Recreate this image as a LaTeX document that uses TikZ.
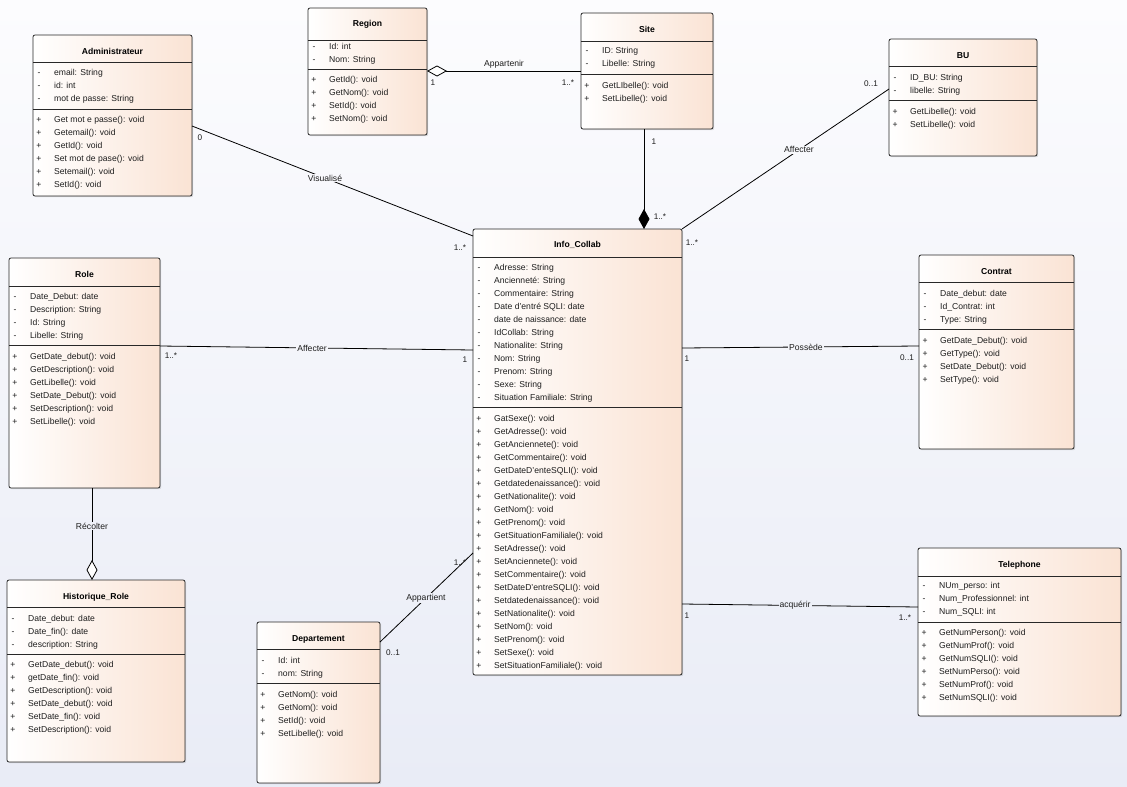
\documentclass[tikz,border=0pt]{standalone}
\usepackage{fontspec}
\setmainfont{Liberation Sans}
\usetikzlibrary{arrows.meta,calc,shadows}
\definecolor{bgA}{RGB}{252,252,254}
\definecolor{bgB}{RGB}{233,236,246}
\definecolor{peach}{RGB}{250,227,212}
\definecolor{boxline}{RGB}{40,40,40}
\definecolor{txt}{RGB}{30,30,30}
\tikzset{
 classbox/.style={draw=boxline, line width=0.8pt, rounded corners=2pt, left color=white, right color=peach, inner sep=0pt, outer sep=0pt, anchor=north west, drop shadow={shadow xshift=1.2pt, shadow yshift=-1.2pt, opacity=0.25}},
 sepline/.style={draw=boxline, line width=0.8pt},
 rowtxt/.style={font=\fontsize{8.6}{10}\selectfont, text=txt, inner sep=0pt},
 titletxt/.style={font=\fontsize{8.6}{10}\selectfont\bfseries, text=black, inner sep=0pt, anchor=base},
 conn/.style={draw=black, line width=0.8pt},
 lab/.style={font=\fontsize{8.6}{10}\selectfont, inner sep=1pt, text=txt},
 mult/.style={font=\fontsize{8.2}{10}\selectfont, inner sep=0pt, text=txt},
}
\newcommand{\umlclass}[9]{%
  \node[classbox, minimum width={#4-#2}, minimum height={#5-#3}] (#1) at (#2,#3) {};
  \draw[sepline] (#2,#6) -- (#4,#6);
  \draw[sepline] (#2,#7) -- (#4,#7);
  \node[titletxt] (#1-title) at ({(#2+#4)/2},#9+3) {#8};
}
\newcommand{\umlrows}[5]{%
  \foreach \t [count=\i] in {#5} {
    \node[rowtxt, anchor=base] (#1s\i) at (#2+6, #3+13*\i-10) {#4};
    \node[rowtxt, anchor=base west] (#1t\i) at (#2+21, #3+13*\i-10) {\t};
  }}
\begin{document}
\begin{tikzpicture}[x=1pt,y=-1pt]
\useasboundingbox (0,0) rectangle (1127,787);
\shade[top color=bgA, bottom color=bgB] (0,0) rectangle (1127,787);

% Administrateur
\umlclass{admin}{33}{35}{192}{196}{62}{109}{Administrateur}{51}
\umlrows{admina}{33}{72}{-}{email: String, id: int, mot de passe: String}
\umlrows{admino}{33}{119}{+}{Get mot e passe(): void, Getemail(): void, GetId(): void, Set mot de pase(): void, Setemail(): void, SetId(): void}

% Region
\umlclass{region}{308}{8}{427}{135}{40}{69}{Region}{24}
\umlrows{regiona}{308}{46}{-}{Id: int, Nom: String}
\umlrows{regiono}{308}{79}{+}{GetId(): void, GetNom(): void, SetId(): void, SetNom(): void}

% Site
\umlclass{site}{581}{13}{713}{129}{41}{74}{Site}{29}
\umlrows{sitea}{581}{50}{-}{ID: String, Libelle: String}
\umlrows{siteo}{581}{85}{+}{GetLIbelle(): void, SetLibelle(): void}

% BU
\umlclass{bu}{889}{39}{1037}{156}{66}{100}{BU}{55}
\umlrows{bua}{889}{77}{-}{ID\_BU: String, libelle: String}
\umlrows{buo}{889}{111}{+}{GetLibelle(): void, SetLibelle(): void}

% Role
\umlclass{role}{9}{258}{160}{488}{286}{345}{Role}{274}
\umlrows{rolea}{9}{296}{-}{Date\_Debut: date, Description: String, Id: String, Libelle: String}
\umlrows{roleo}{9}{356}{+}{GetDate\_debut(): void, GetDescription(): void, GetLibelle(): void, SetDate\_Debut(): void, SetDescription(): void, SetLibelle(): void}

% Info_Collab
\umlclass{info}{473}{229}{682}{675}{257}{407}{Info\_Collab}{244}
\umlrows{infoa}{473}{267}{-}{Adresse: String, Ancienneté: String, Commentaire: String, Date d'entré SQLI: date, date de naissance: date, IdCollab: String, Nationalite: String, Nom: String, Prenom: String, Sexe: String, Situation Familiale: String}
\umlrows{infoo}{473}{418}{+}{GatSexe(): void, GetAdresse(): void, GetAnciennete(): void, GetCommentaire(): void, GetDateD'enteSQLI(): void, Getdatedenaissance(): void, GetNationalite(): void, GetNom(): void, GetPrenom(): void, GetSituationFamiliale(): void, SetAdresse(): void, SetAnciennete(): void, SetCommentaire(): void, SetDateD'entreSQLI(): void, Setdatedenaissance(): void, SetNationalite(): void, SetNom(): void, SetPrenom(): void, SetSexe(): void, SetSituationFamiliale(): void}

% Contrat
\umlclass{contrat}{919}{255}{1074}{449}{282}{329}{Contrat}{271}
\umlrows{contrata}{919}{293}{-}{Date\_debut: date, Id\_Contrat: int, Type: String}
\umlrows{contrato}{919}{340}{+}{GetDate\_Debut(): void, GetType(): void, SetDate\_Debut(): void, SetType(): void}

% Historique_Role
\umlclass{histo}{7}{580}{185}{762}{607}{654}{Historique\_Role}{596}
\umlrows{histoa}{7}{618}{-}{Date\_debut: date, Date\_fin(): date, description: String}
\umlrows{histoo}{7}{664}{+}{GetDate\_debut(): void, getDate\_fin(): void, GetDescription(): void, SetDate\_debut(): void, SetDate\_fin(): void, SetDescription(): void}

% Departement
\umlclass{dept}{257}{622}{380}{783}{649}{683}{Departement}{638}
\umlrows{depta}{257}{660}{-}{Id: int, nom: String}
\umlrows{depto}{257}{694}{+}{GetNom(): void, GetNom(): void, SetId(): void, SetLibelle(): void}

% Telephone
\umlclass{tel}{918}{548}{1121}{716}{576}{622}{Telephone}{564}
\umlrows{tela}{918}{585}{-}{NUm\_perso: int, Num\_Professionnel: int, Num\_SQLI: int}
\umlrows{telo}{918}{632}{+}{GetNumPerson(): void, GetNumProf(): void, GetNumSQLI(): void, SetNumPerso(): void, SetNumProf(): void, SetNumSQLI(): void}

% Connectors
\draw[conn, {Diamond[fill=white, length=20pt, width=11pt]}-] ($(region.north east)+(0,63)$) -- node[lab, midway, above=1pt] (l-app) {Appartenir} ($(site.north west)+(0,58)$);
\draw[conn, -{Diamond[length=20pt, width=11pt]}] ($(site.south west)+(63,0)$) -- ($(info.north west)+(171,0)$);
\draw[conn] ($(bu.north west)+(0,50)$) -- node[lab, pos=0.435, fill=bgB!19!bgA] (l-aff1) {Affecter} (info.north east);
\draw[conn] ($(admin.north east)+(0,91)$) -- node[lab, pos=0.473, fill=bgB!22!bgA] (l-vis) {Visualisé} ($(info.north west)+(0,7)$);
\draw[conn] ($(role.north east)+(0,88)$) -- node[lab, pos=0.486, fill=bgB!44!bgA] (l-aff2) {Affecter} ($(info.north west)+(0,121)$);
\draw[conn] ($(info.north east)+(0,119)$) -- node[lab, pos=0.523, fill=bgB!44!bgA] (l-pos) {Possède} ($(contrat.north west)+(0,91)$);
\draw[conn] ($(info.north east)+(0,375)$) -- node[lab, pos=0.479, fill=bgB!77!bgA] (l-acq) {acquérir} ($(tel.north west)+(0,59)$);
\draw[conn] ($(dept.north east)+(0,20)$) -- node[lab, pos=0.495, fill=bgB!75!bgA] (l-appt) {Appartient} ($(info.north west)+(0,324)$);
\draw[conn, -{Diamond[fill=white, length=20pt, width=11pt]}] ($(role.south west)+(83,0)$) -- node[lab, pos=0.413, fill=bgB!67!bgA] (l-rec) {Récolter} ($(histo.north west)+(85,0)$);

% Multiplicities
\node[mult] (m1) at (433,83) {1};
\node[mult] (m2) at (568,83) {1..*};
\node[mult] (m3) at (654,142) {1};
\node[mult] (m4) at (660,217) {1..*};
\node[mult] (m5) at (871,84) {0..1};
\node[mult] (m6) at (692,243) {1..*};
\node[mult] (m7) at (200,138) {0};
\node[mult] (m8) at (460,248) {1..*};
\node[mult] (m9) at (171,356) {1..*};
\node[mult] (m10) at (465,360) {1};
\node[mult] (m11) at (687,359) {1};
\node[mult] (m12) at (907,358) {0..1};
\node[mult] (m13) at (687,616) {1};
\node[mult] (m14) at (905,618) {1..*};
\node[mult] (m15) at (393,653) {0..1};
\node[mult] (m16) at (460,563) {1..*};
\end{tikzpicture}
\end{document}
